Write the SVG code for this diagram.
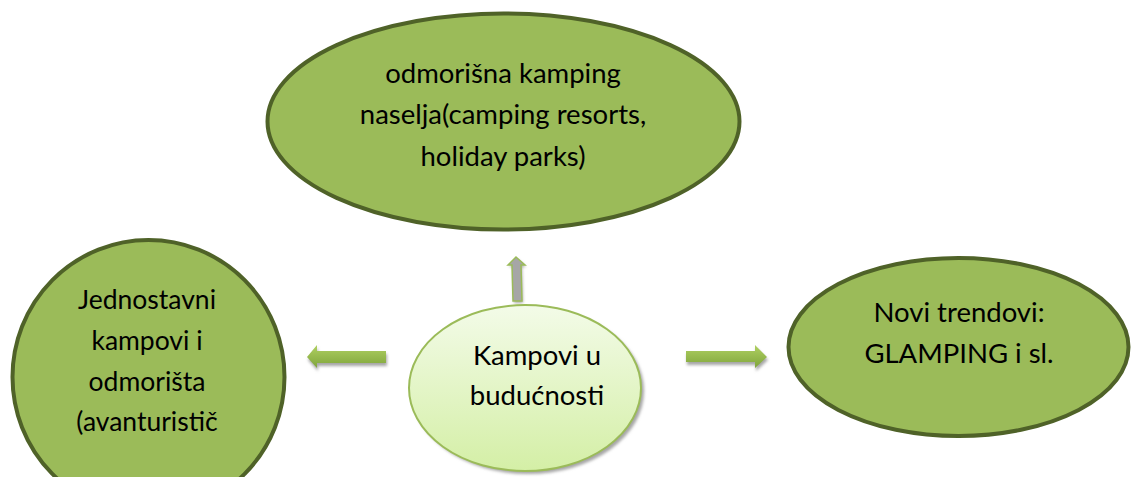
<svg xmlns="http://www.w3.org/2000/svg" width="1132" height="477" viewBox="0 0 1132 477">
<style>
.node{fill:#9BBB59;stroke:#4F6228;stroke-width:4}
.t{font-family:Lato,"Open Sans","Liberation Sans",sans-serif;font-size:27.5px;fill:#000;text-anchor:middle}
.s{font-size:26.5px}
.shadow{fill:#A6A6A6}
</style>
<defs>
<linearGradient id="cg" x1="0" y1="0" x2="0" y2="1">
<stop offset="0" stop-color="#F3FBE8"/>
<stop offset="1" stop-color="#D4EFA6"/>
</linearGradient>
<linearGradient id="ag" x1="0" y1="0" x2="0" y2="1">
<stop offset="0" stop-color="#B0D062"/>
<stop offset="1" stop-color="#7FA53B"/>
</linearGradient>
<filter id="blur" x="-20%" y="-20%" width="140%" height="140%"><feGaussianBlur stdDeviation="1.5"/></filter>
</defs>
<rect width="1132" height="477" fill="#fff"/>
<g id="connectors">
<g id="arrow-up">
<polygon class="shadow" points="517,259 526,267 522,267 523,303 514,303 513,267 509,267" filter="url(#blur)"/>
<polygon points="516,257 525,265 521,265 522,301 513,301 512,265 508,265" fill="#A6A6A6" stroke="#9BBB59" stroke-width="1.5"/>
</g>
<g id="arrow-left">
<polygon class="shadow" points="308,360 318,348 318,354 387,354 387,366 318,366 318,371" filter="url(#blur)"/>
<polygon points="307,357 317,345 317,351 386,351 386,363 317,363 317,368" fill="url(#ag)"/>
</g>
<g id="arrow-right">
<polygon class="shadow" points="687,354 756,354 756,348 768,360 756,371 756,365 687,365" filter="url(#blur)"/>
<polygon points="686,351 755,351 755,345 767,357 755,368 755,362 686,362" fill="url(#ag)"/>
</g>
</g>
<g id="node-top">
<ellipse class="node" cx="503.5" cy="121.5" rx="236" ry="108"/>
<text class="t" x="503" y="83">odmorišna kamping</text>
<text class="t" x="503" y="124">naselja(camping resorts,</text>
<text class="t" x="503" y="166">holiday parks)</text>
</g>
<g id="node-left">
<ellipse class="node" cx="148.5" cy="377" rx="136" ry="137"/>
<text class="t s" x="147" y="309">Jednostavni</text>
<text class="t s" x="147" y="350">kampovi i</text>
<text class="t s" x="147" y="391">odmorišta</text>
<text class="t s" x="147" y="431">(avanturistič</text>
</g>
<g id="node-right">
<ellipse class="node" cx="958.5" cy="347" rx="170" ry="89"/>
<text class="t" x="959" y="322">Novi trendovi:</text>
<text class="t" x="959" y="363">GLAMPING i sl.</text>
</g>
<g id="node-center">
<ellipse cx="528" cy="391" rx="116" ry="83" fill="#A6A6A6" filter="url(#blur)"/>
<ellipse cx="525" cy="388" rx="116" ry="83" fill="url(#cg)" stroke="#9BBB59" stroke-width="2"/>
<text class="t" x="537" y="365">Kampovi u</text>
<text class="t" x="537" y="405">budućnosti</text>
</g>
</svg>
